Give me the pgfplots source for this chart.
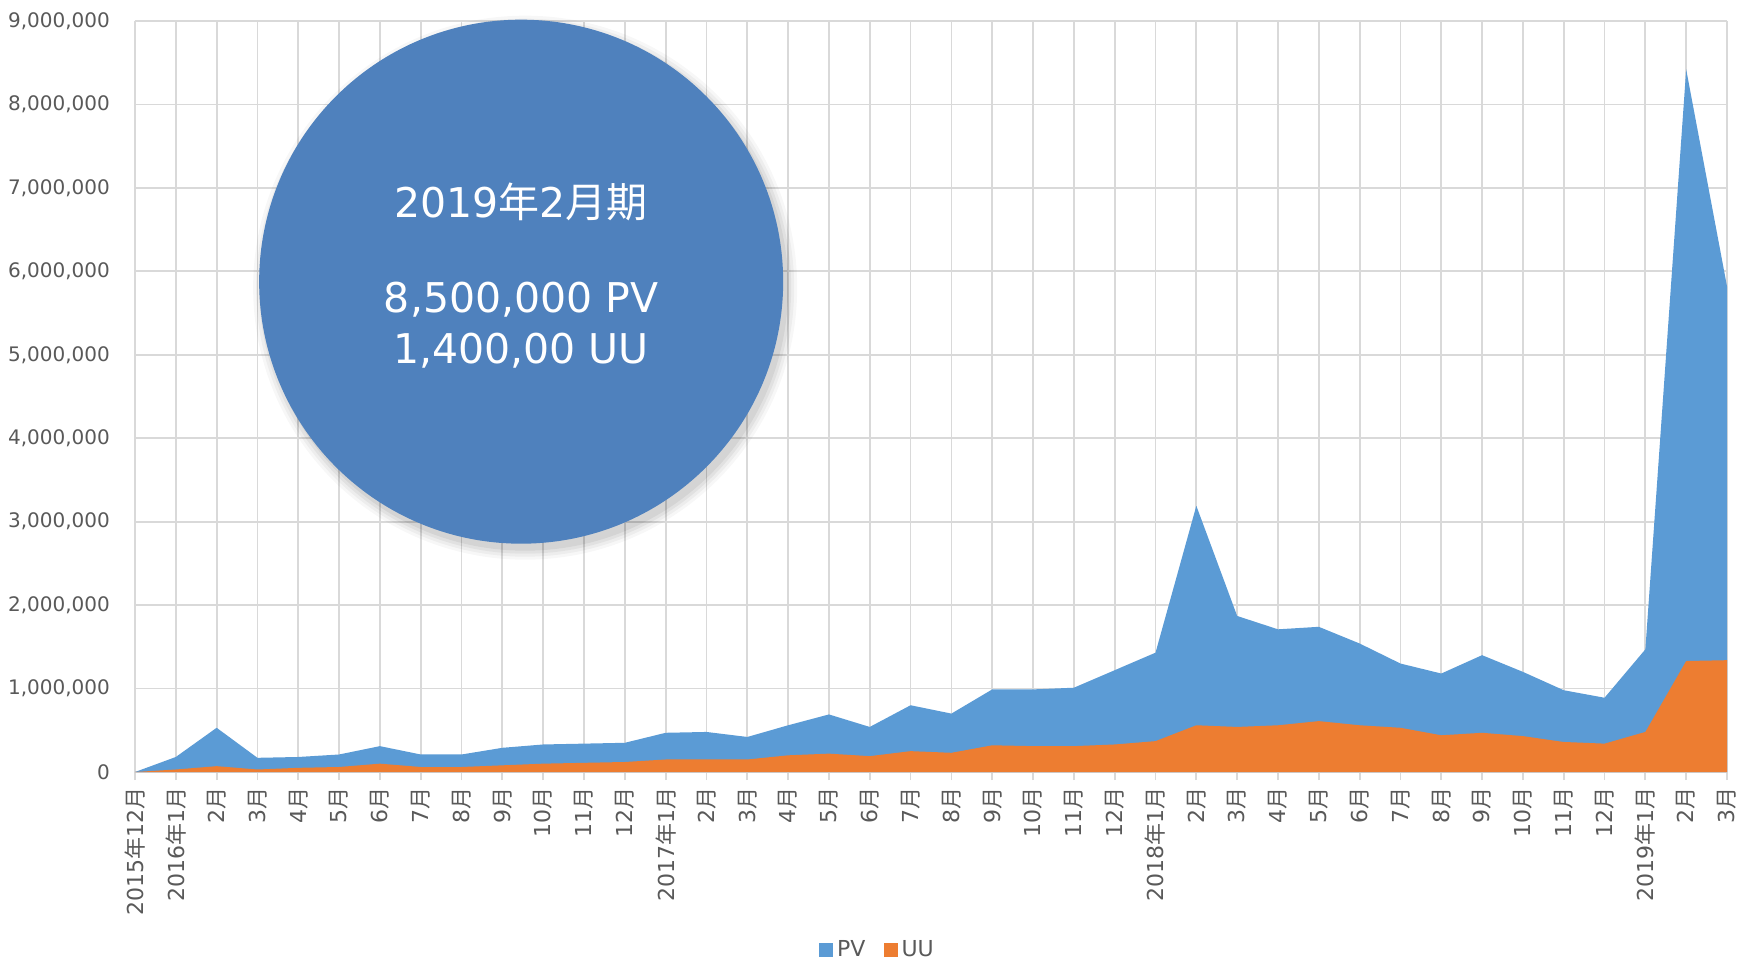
\documentclass[border=0pt]{standalone}
\usepackage{fontspec}
\setmainfont{DejaVu Sans}
\newfontfamily\cjk{Noto Sans CJK JP}
\usepackage{pgfplots}
\pgfplotsset{compat=1.18}
\definecolor{pvblue}{RGB}{91,155,213}
\definecolor{uuorange}{RGB}{237,125,49}
\definecolor{circblue}{RGB}{79,129,189}
\definecolor{gridgrey}{RGB}{217,217,217}
\definecolor{tickgrey}{RGB}{89,89,89}
\newcommand\nen{{\cjk 年}}
\newcommand\gatsu{{\cjk 月}}
\newcommand\ki{{\cjk 期}}
\begin{document}
\begin{tikzpicture}
\begin{axis}[
  at={(0,0)}, anchor=south west,
  scale only axis,
  width=796pt, height=375.5pt,
  xmin=0, xmax=39, ymin=0, ymax=9000000,
  clip=false,
  axis line style={draw=none},
  grid=major,
  grid style={draw=gridgrey, line width=0.9pt},
  xtick={0,...,39},
  xticklabels={2015\nen12\gatsu,2016\nen1\gatsu,2\gatsu,3\gatsu,4\gatsu,5\gatsu,6\gatsu,7\gatsu,8\gatsu,9\gatsu,10\gatsu,11\gatsu,12\gatsu,
    2017\nen1\gatsu,2\gatsu,3\gatsu,4\gatsu,5\gatsu,6\gatsu,7\gatsu,8\gatsu,9\gatsu,10\gatsu,11\gatsu,12\gatsu,
    2018\nen1\gatsu,2\gatsu,3\gatsu,4\gatsu,5\gatsu,6\gatsu,7\gatsu,8\gatsu,9\gatsu,10\gatsu,11\gatsu,12\gatsu,
    2019\nen1\gatsu,2\gatsu,3\gatsu},
  ytick distance=1000000,
  scaled y ticks=false,
  /pgf/number format/.cd, fixed, 1000 sep={,}, assume math mode=true, /pgfplots/.cd,
  tick align=outside,
  major tick length=4pt,
  xtick pos=bottom,
  xtick style={draw=gridgrey, line width=0.9pt},
  ytick style={draw=none},
  xticklabel style={rotate=90, anchor=east, xshift=0pt, font=\fontsize{11}{13}\selectfont, text=tickgrey},
  yticklabel style={anchor=east, xshift=-5pt, font=\fontsize{10}{12}\selectfont, text=tickgrey},
  legend style={at={(0.467,0)}, anchor=center, yshift=-89pt, draw=none, fill=none,
    legend columns=2, font=\fontsize{11}{13}\selectfont, text=tickgrey,
    /tikz/every even column/.append style={column sep=7pt}},
  legend image code/.code={\fill[#1] (0pt,-3.5pt) rectangle (7pt,3.5pt);},
]
\addplot[fill=pvblue, draw=none] coordinates {
(0,0) (1,180000) (2,530000) (3,170000) (4,180000) (5,210000) (6,310000) (7,210000) (8,210000) (9,290000)
(10,330000) (11,340000) (12,350000) (13,470000) (14,480000) (15,420000) (16,560000) (17,690000) (18,540000) (19,800000)
(20,700000) (21,990000) (22,990000) (23,1010000) (24,1220000) (25,1430000) (26,3190000) (27,1870000) (28,1710000) (29,1740000)
(30,1540000) (31,1300000) (32,1180000) (33,1400000) (34,1200000) (35,980000) (36,890000) (37,1470000) (38,8420000) (39,5820000)
} \closedcycle;
\addlegendentry{PV}
\addplot[fill=uuorange, draw=none] coordinates {
(0,0) (1,30000) (2,70000) (3,30000) (4,50000) (5,60000) (6,100000) (7,60000) (8,60000) (9,80000)
(10,100000) (11,110000) (12,120000) (13,150000) (14,150000) (15,150000) (16,200000) (17,220000) (18,190000) (19,250000)
(20,230000) (21,320000) (22,310000) (23,310000) (24,330000) (25,370000) (26,560000) (27,540000) (28,560000) (29,610000)
(30,560000) (31,530000) (32,440000) (33,470000) (34,430000) (35,360000) (36,340000) (37,480000) (38,1330000) (39,1340000)
} \closedcycle;
\addlegendentry{UU}
\fill[black, opacity=0.03] ([xshift=2pt,yshift=-3pt]axis cs:9.46,5876000) circle[radius=136pt];
\fill[black, opacity=0.04] ([xshift=2pt,yshift=-3pt]axis cs:9.46,5876000) circle[radius=134.5pt];
\fill[black, opacity=0.05] ([xshift=2pt,yshift=-3pt]axis cs:9.46,5876000) circle[radius=133pt];
\fill[black, opacity=0.06] ([xshift=2pt,yshift=-3pt]axis cs:9.46,5876000) circle[radius=131.5pt];
\node[circle, fill=circblue, minimum size=262pt, inner sep=0pt] (c) at (axis cs:9.46,5876000) {};
\node[text=white, font=\fontsize{20.5}{24}\selectfont] at ([yshift=40pt]c.center) {2019\nen2\gatsu\ki};
\node[text=white, font=\fontsize{20.5}{24}\selectfont] at ([yshift=-8.9pt]c.center) {8,500,000 PV};
\node[text=white, font=\fontsize{20.5}{24}\selectfont] at ([yshift=-34.4pt]c.center) {1,400,00 UU};
\end{axis}
\pgfresetboundingbox
\path (-67.5pt,-93.5pt) rectangle (802pt,386pt);
\end{tikzpicture}
\end{document}
